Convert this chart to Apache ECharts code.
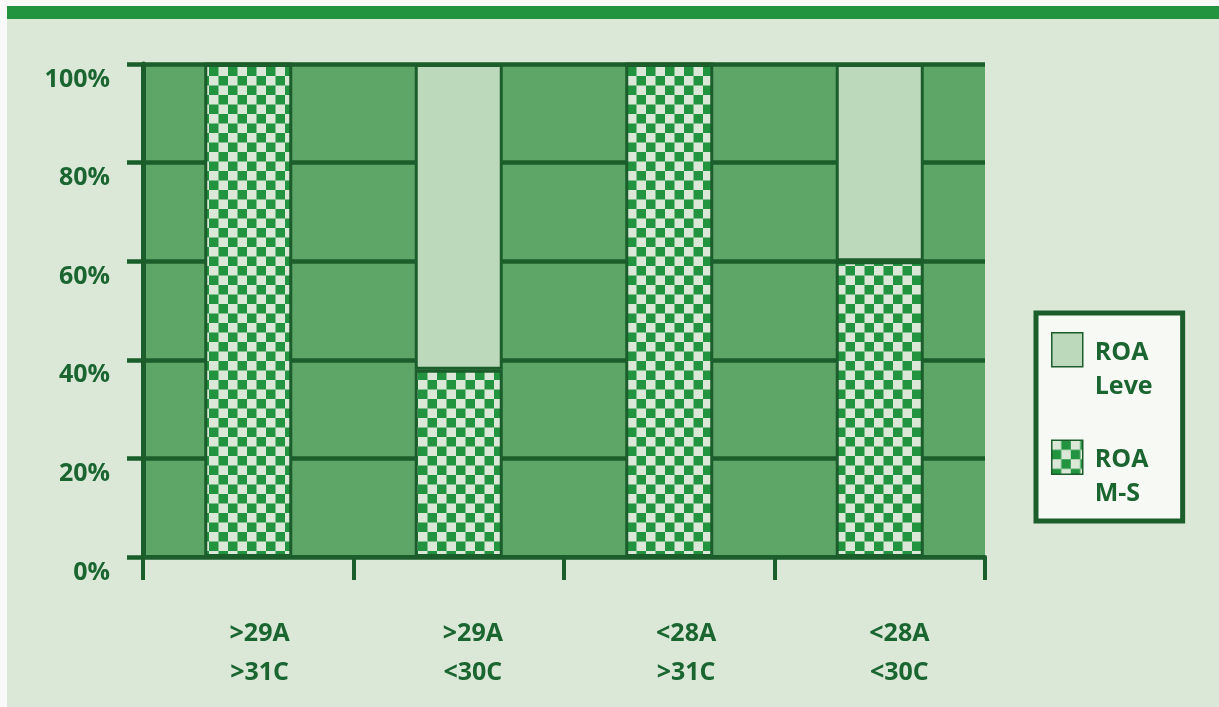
<!DOCTYPE html>
<html>
<head>
<meta charset="utf-8">
<script src="https://cdn.jsdelivr.net/npm/echarts@6/dist/echarts.min.js"></script>
<style>
  html, body { margin: 0; padding: 0; background: #f9f9f9; }
  #chart { width: 1219px; height: 707px; }
</style>
</head>
<body>
<div id="chart"></div>
<script>
// Share of ROA types per temperature class (stacked to 100%)
const categories = ['>29A\n>31C', '>29A\n<30C', '<28A\n>31C', '<28A\n<30C'];
const roaMS = [100, 38, 100, 60];
const roaLeve = [0, 62, 0, 40];
const seriesNames = ['ROA Leve', 'ROA M-S'];

const DARK = '#1b5e2b';
const TEXT = '#1a6530';
const BG = '#dbe8d8';
const BAND = '#22933f';
const PLOT = '#5ea568';
const LIGHT_BAR = '#bcd9bb';
const FONT = 'Open Sans';

// checkerboard tile used as the fill of the ROA M-S bars
function checkerTile(cell, dark, light) {
  const c = document.createElement('canvas');
  c.width = c.height = Math.round(cell * 2);
  const g = c.getContext('2d');
  g.fillStyle = light;
  g.fillRect(0, 0, c.width, c.height);
  g.fillStyle = dark;
  g.fillRect(cell, 0, cell, cell);
  g.fillRect(0, cell, cell, cell);
  return c;
}
const checker = { image: checkerTile(9.5, BAND, BG), repeat: 'repeat' };

const chart = echarts.init(document.getElementById('chart'), null, { renderer: 'canvas' });

chart.setOption({
  backgroundColor: BG,
  animation: false,
  graphic: [
    { type: 'rect', left: 0, top: 0, shape: { width: 1219, height: 6 }, style: { fill: '#f9f9f9' }, silent: true },
    { type: 'rect', left: 0, top: 0, shape: { width: 7, height: 707 }, style: { fill: '#f9f9f9' }, silent: true },
    { type: 'rect', left: 7, top: 6, shape: { width: 1212, height: 13 }, style: { fill: BAND }, silent: true }
  ],
  grid: [
    { left: 143, right: 234, top: 64, bottom: 150, show: true, backgroundColor: PLOT, borderWidth: 0 },
    { left: 153, right: 213, top: 64, bottom: 150, show: false }
  ],
  legend: {
    data: seriesNames,
    orient: 'vertical',
    left: 1036,
    top: 313,
    padding: [19, 30, 6, 15],
    itemWidth: 31,
    itemHeight: 74,
    itemGap: 32,
    icon: 'path://M0,0L31,0L31,34L0,34ZM0,74',
    backgroundColor: '#f7f9f5',
    borderColor: DARK,
    borderWidth: 5,
    borderRadius: 0,
    itemStyle: { borderColor: DARK, borderWidth: 1.5 },
    formatter: name => name.replace(' ', '\n'),
    textStyle: {
      fontFamily: FONT, fontWeight: 'bold', fontSize: 25, lineHeight: 34,
      color: TEXT, padding: [0, 0, 0, 7]
    }
  },
  xAxis: [
    {
      type: 'category', gridIndex: 0, data: categories,
      axisLine: { show: true, lineStyle: { color: DARK, width: 4 } },
      axisTick: { show: true, interval: 0, length: 23, lineStyle: { color: DARK, width: 4 } },
      axisLabel: { show: false },
      splitLine: { show: false }
    },
    {
      type: 'category', gridIndex: 1, data: categories,
      axisLine: { show: false }, axisTick: { show: false }, splitLine: { show: false },
      axisLabel: {
        interval: 0, margin: 57, color: TEXT, fontFamily: FONT,
        fontWeight: 'bold', fontSize: 25, lineHeight: 39
      }
    }
  ],
  yAxis: [
    {
      type: 'value', gridIndex: 0, min: 0, max: 100, interval: 20,
      axisLine: { show: true, lineStyle: { color: DARK, width: 5 } },
      axisTick: { show: true, length: 16, lineStyle: { color: DARK, width: 4.5 } },
      splitLine: { show: true, lineStyle: { color: DARK, width: 4.5 } },
      axisLabel: {
        formatter: '{value}%', margin: 33, color: TEXT, fontFamily: FONT,
        fontWeight: 'bold', fontSize: 25, verticalAlign: 'top', lineHeight: 31
      }
    },
    { type: 'value', gridIndex: 1, min: 0, max: 100, show: false }
  ],
  series: [
    {
      name: 'ROA M-S', type: 'bar', stack: 'roa', xAxisIndex: 0, yAxisIndex: 0,
      data: roaMS, barWidth: 88,
      itemStyle: { color: checker, borderColor: DARK, borderWidth: 3 }
    },
    {
      name: 'ROA Leve', type: 'bar', stack: 'roa', xAxisIndex: 0, yAxisIndex: 0,
      data: roaLeve, barWidth: 88,
      itemStyle: { color: LIGHT_BAR, borderColor: DARK, borderWidth: 3 }
    }
  ]
});
</script>
</body>
</html>
